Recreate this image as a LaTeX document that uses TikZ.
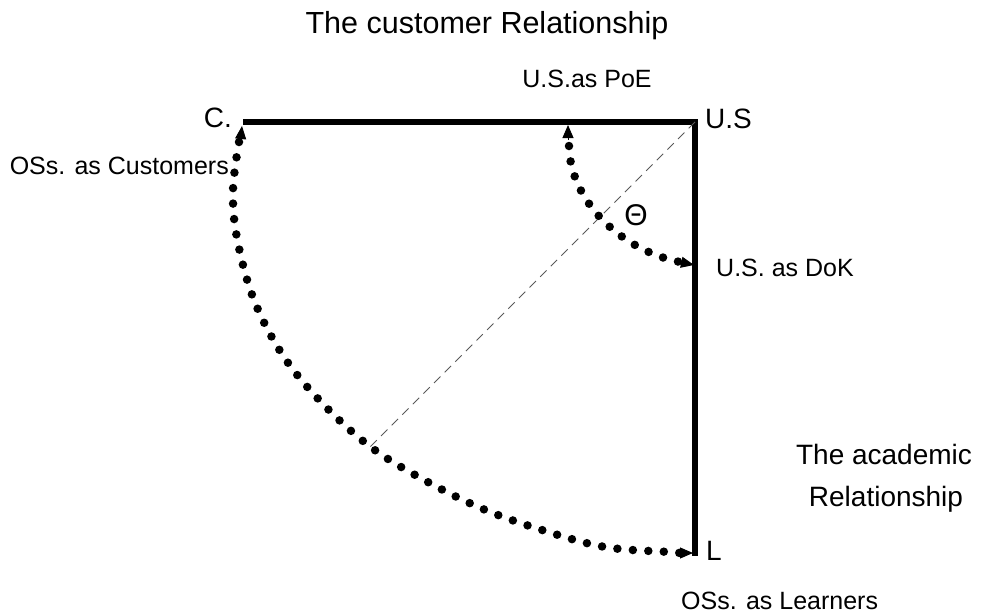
\documentclass[tikz,border=0pt]{standalone}
\usepackage{fontspec}
\setmainfont{Liberation Sans}
\usetikzlibrary{arrows.meta}
\tikzset{
  lbl/.style={inner sep=0pt, anchor=base, font=\fontsize{25}{30}\selectfont},
  biglbl/.style={inner sep=0pt, anchor=base, font=\fontsize{30.5}{36}\selectfont},
  midlbl/.style={inner sep=0pt, anchor=base, font=\fontsize{28}{33}\selectfont},
  axis/.style={line width=6.5pt, line join=miter},
  dotline/.style={line width=8.5pt, line cap=round, dash pattern=on 0pt off 15.5pt},
  tip/.style={-{Triangle[length=13pt,width=11pt]}},
  diag/.style={line width=1pt, black!65, dash pattern=on 9pt off 6pt}
}
\begin{document}
\begin{tikzpicture}[x=1pt,y=-1pt]
\useasboundingbox (0,0) rectangle (994,616);
% corner points
\coordinate (C) at (243,122);
\coordinate (US) at (695,122);
\coordinate (L) at (695,556);
\coordinate (Ca) at (242,126);
\coordinate (La) at (693,553);
\coordinate (PE) at (568,125);
\coordinate (DK) at (694,265);
\coordinate (Dend) at (370,447);
% axes
\draw[axis] (C) -- (US) -- (L);
% diagonal
\draw[diag] (US) -- (Dend);
% big dotted arc
\draw[dotline] plot[smooth, tension=0.6] coordinates {(239,142) (233,190) (237,238) (254,300) (284,357) (324,405) (372,448) (426,481) (483,509) (542,530) (605,547) (669,552) (680,553)};
\draw[tip, line width=1pt] (240,145) -- (Ca);
\draw[tip, line width=1pt] (676,553) -- (La);
% small dotted arc
\draw[dotline] (569,146) .. controls (570,200) and (620,250) .. (680,262);
\draw[tip, line width=1pt] (568,140) -- (PE);
\draw[tip, line width=1pt] (680,262) -- (DK);
% labels
\node[biglbl] (title) at (487,33) {The customer Relationship};
\node[lbl] (poe) at (587,87) {U.S.as PoE};
\node[midlbl, anchor=base east] (clbl) at (232,127) {C.};
\node[midlbl, anchor=base west] (uslbl) at (705,128) {U.S};
\node[lbl, anchor=base east] (cust) at (229,174) {OSs. as Customers};
\node[font=\fontsize{30}{34}\selectfont, inner sep=0pt, anchor=base] (theta) at (636,225) {Θ};
\node[lbl, anchor=base west] (dok) at (716,276) {U.S. as DoK};
\node[midlbl] (acad1) at (884,464) {The academic};
\node[midlbl] (acad2) at (886,506) {Relationship};
\node[midlbl, anchor=base west] (llbl) at (706,560) {L};
\node[lbl, anchor=base west] (learn) at (681,609) {OSs. as Learners};
\end{tikzpicture}
\end{document}
